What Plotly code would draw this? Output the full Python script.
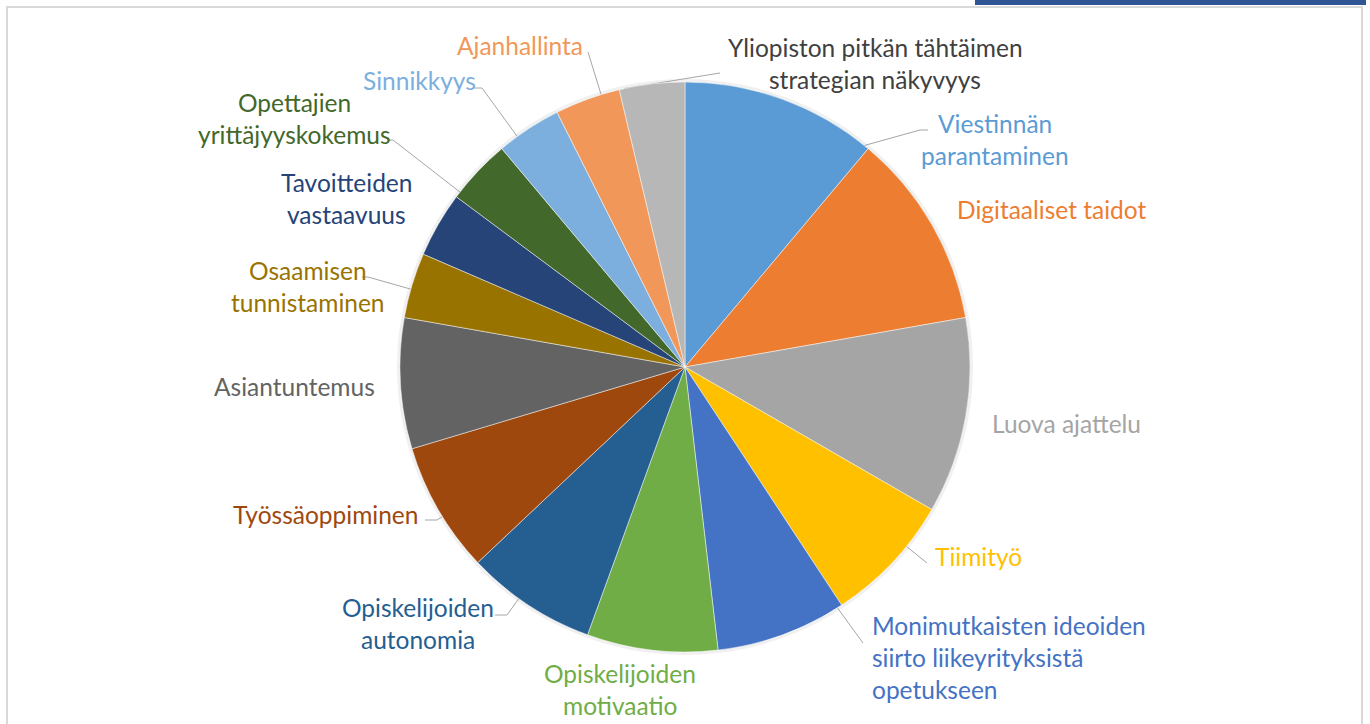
import math
import plotly.graph_objects as go

# data
labels = [
    "Viestinnän parantaminen", "Digitaaliset taidot", "Luova ajattelu", "Tiimityö",
    "Monimutkaisten ideoiden siirto liikeyrityksistä opetukseen",
    "Opiskelijoiden motivaatio", "Opiskelijoiden autonomia", "Työssäoppiminen",
    "Asiantuntemus", "Osaamisen tunnistaminen", "Tavoitteiden vastaavuus",
    "Opettajien yrittäjyyskokemus", "Sinnikkyys", "Ajanhallinta",
    "Yliopiston pitkän tähtäimen strategian näkyvyys",
]
values = [3, 3, 3, 2, 2, 2, 2, 2, 2, 1, 1, 1, 1, 1, 1]
colors = ["#5B9BD5", "#ED7D31", "#A5A5A5", "#FFC000", "#4472C4", "#70AD47",
          "#255E91", "#9E480E", "#636363", "#997300", "#264478", "#43682B",
          "#7CAFDD", "#F1975A", "#B7B7B7"]

# label layout (pixels): wrapped lines, anchor x, first line y, xanchor, text colour
label_lines = [
    ["Viestinnän", "parantaminen"], ["Digitaaliset taidot"], ["Luova ajattelu"], ["Tiimityö"],
    ["Monimutkaisten ideoiden", "siirto liikeyrityksistä", "opetukseen"],
    ["Opiskelijoiden", "motivaatio"], ["Opiskelijoiden", "autonomia"], ["Työssäoppiminen"],
    ["Asiantuntemus"], ["Osaamisen", "tunnistaminen"], ["Tavoitteiden", "vastaavuus"],
    ["Opettajien", "yrittäjyyskokemus"], ["Sinnikkyys"], ["Ajanhallinta"],
    ["Yliopiston pitkän tähtäimen", "strategian näkyvyys"],
]
label_pos = [
    (995, 123, "center"), (955, 209, "left"), (990, 423, "left"), (933, 556, "left"),
    (870, 625, "left"), (620, 673, "center"), (418, 607, "center"), (420, 514, "right"),
    (377, 386, "right"), (308, 270, "center"), (346, 182, "center"), (294, 102, "center"),
    (478, 80, "right"), (520, 45, "center"), (875, 47, "center"),
]
text_colors = colors[:14] + ["#404040"]
# leader line elbows (pixels) with short tick length, None = no line
leaders = [(920, 130, 8), None, None, (927, 563, 0), (863, 643, 0), None, (507, 615, -12),
           (437, 520, -12), None, (368, 277, -6), None, (393, 140, -6), (482, 88, -8),
           (588, 52, 0), (720, 73, 0)]

W, H = 1370, 724
CX, CY, R = 685, 367, 285
LINE_H = 32

fig = go.Figure()

# soft shadow behind the pie
fig.add_shape(type="circle", xref="x", yref="y", x0=CX - R - 3, x1=CX + R + 3,
              y0=CY - R - 3, y1=CY + R + 3, line=dict(width=0),
              fillcolor="rgba(0,0,0,0.06)", layer="below")

fig.add_trace(go.Pie(
    labels=labels, values=values, sort=False, direction="clockwise", rotation=0,
    marker=dict(colors=colors, line=dict(color="rgba(255,255,255,0.6)", width=0.8)),
    textinfo="none", hoverinfo="label+percent", showlegend=False,
    domain=dict(x=[(CX - R) / W, (CX + R) / W], y=[(H - CY - R) / H, (H - CY + R) / H]),
))

# leader lines
total = sum(values)
lx, ly = [], []
start = 0.0
for v, ld in zip(values, leaders):
    a0 = start / total * 360
    a1 = (start + v) / total * 360
    start += v
    if ld is None:
        continue
    ex, ey, tick = ld
    ang = math.degrees(math.atan2(ex - CX, -(ey - CY))) % 360
    ang = min(max(ang, a0 + 1), a1 - 1)
    px = CX + R * math.sin(math.radians(ang))
    py = CY - R * math.cos(math.radians(ang))
    lx += [ex + tick, ex, px, None]
    ly += [ey, ey, py, None]

fig.add_trace(go.Scatter(x=lx, y=ly, mode="lines", line=dict(color="#A6A6A6", width=1),
                         hoverinfo="skip", showlegend=False))

for lines, (x, y, anchor), col in zip(label_lines, label_pos, text_colors):
    for i, t in enumerate(lines):
        fig.add_annotation(x=x, y=y + i * LINE_H, xref="x", yref="y", text=t,
                           showarrow=False, xanchor=anchor, yanchor="middle",
                           font=dict(family="Lato", size=24.5, color=col))

# frame and top bar
fig.add_shape(type="rect", xref="x", yref="y", x0=7, x1=1362, y0=7, y1=740,
              line=dict(color="#D9D9D9", width=2))
fig.add_shape(type="rect", xref="x", yref="y", x0=975, x1=1366, y0=0, y1=5,
              line=dict(width=0), fillcolor="#2F5597")

fig.update_layout(
    width=W, height=H, margin=dict(l=0, r=0, t=0, b=0),
    paper_bgcolor="white", plot_bgcolor="white",
    xaxis=dict(range=[0, W], visible=False, fixedrange=True),
    yaxis=dict(range=[H, 0], visible=False, fixedrange=True),
)

# page pixels = figure pixels
fig.write_html("out.html", config={"displayModeBar": False},
               post_script="document.body.style.margin='0';")
